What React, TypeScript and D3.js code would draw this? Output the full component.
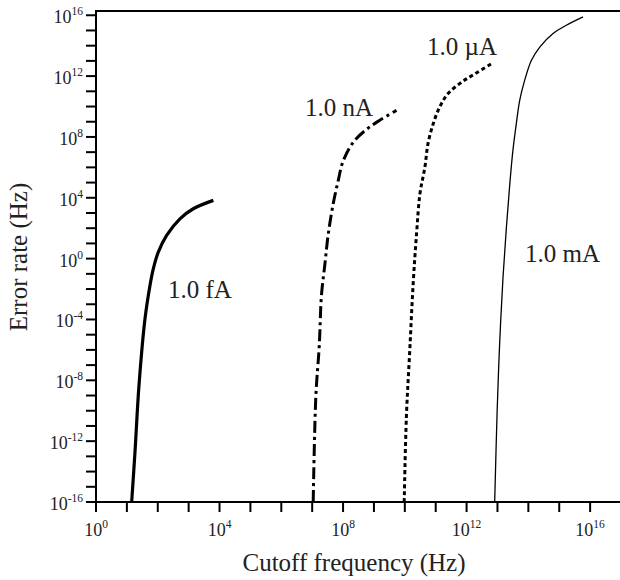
import React from "react";
import * as d3 from "d3";

// log10 of cutoff frequency (Hz) and log10 of error rate (Hz)
const fA_logFreq = [1.155, 1.262, 1.392, 1.586, 1.748, 1.855, 2.017, 2.287, 2.718, 3.15, 3.8];
const fA_logRate = [-16, -12.73, -8.34, -3.96, -1.76, -0.67, 0.43, 1.53, 2.62, 3.28, 3.83];

const nA_logFreq = [7.033, 7.12, 7.23, 7.3, 7.41, 7.52, 7.68, 7.84, 8.0, 8.33, 8.76, 9.19, 9.73];
const nA_logRate = [-16, -9.0, -5.71, -2.42, -0.4, 1.6, 3.6, 5.1, 6.4, 7.65, 8.5, 9.1, 9.75];

const uA_logFreq = [9.98, 10.05, 10.16, 10.27, 10.38, 10.49, 10.65, 10.75, 10.92, 11.13, 11.4, 11.84, 12.27, 12.81];
const uA_logRate = [-16, -10.43, -6.04, -1.65, 1.64, 4.27, 6.02, 7.56, 8.87, 9.97, 10.85, 11.6, 12.15, 12.82];

const mA_logFreq = [12.91, 12.99, 13.07, 13.18, 13.29, 13.4, 13.5, 13.61, 13.72, 13.88, 14.1, 14.37, 14.8, 15.23, 15.77];
const mA_logRate = [-16, -9.99, -5.6, -1.21, 2.07, 4.93, 7.12, 8.87, 10.41, 11.72, 13.04, 13.91, 14.8, 15.34, 15.89];

const seriesNames = ["1.0 fA", "1.0 nA", "1.0 \u00B5A", "1.0 mA"];

const xTickExps = [0, 4, 8, 12, 16];
const yTickExps = [-16, -12, -8, -4, 0, 4, 8, 12, 16];

const FONT = "'Liberation Serif', 'Times New Roman', serif";

export default function App() {
  const W = 620, H = 580;
  const left = 96, right = 621, top = 11, bottom = 502;
  const x = d3.scaleLog().domain([1, 1e17]).range([left, right]);
  const y = d3.scaleLog().domain([1e-16, Math.pow(10, 16.28)]).range([bottom, top]);

  const mk = (lf: number[], lr: number[]) => lf.map((f, i) => [Math.pow(10, f), Math.pow(10, lr[i])] as [number, number]);
  const line = d3
    .line<[number, number]>()
    .x((d) => x(d[0]))
    .y((d) => y(d[1]))
    .curve(d3.curveCatmullRom.alpha(0.5));

  const series = [
    { data: mk(fA_logFreq, fA_logRate), width: 3.2, dash: undefined as string | undefined },
    { data: mk(nA_logFreq, nA_logRate), width: 3, dash: "12,4,3,4" },
    { data: mk(uA_logFreq, uA_logRate), width: 3, dash: "4,3" },
    { data: mk(mA_logFreq, mA_logRate), width: 1.3, dash: undefined },
  ];

  const labelPos: [number, number][] = [
    [168, 298],
    [305, 116],
    [427, 55],
    [525, 262],
  ];

  const xDecades = d3.range(0, 18);
  const yDecades = d3.range(-16, 17);

  return (
    <svg width={W} height={H} style={{ display: "block", position: "absolute", left: 0, top: 0 }} fontFamily={FONT}>
      <rect x={0} y={0} width={W} height={H} fill="#fff" />
      {series.map((s, i) => (
        <path
          key={i}
          d={line(s.data) || ""}
          fill="none"
          stroke="#000"
          strokeWidth={s.width}
          strokeDasharray={s.dash}
          strokeLinejoin="round"
        />
      ))}
      <rect x={left} y={top} width={right - left} height={bottom - top} fill="none" stroke="#000" strokeWidth={2} />
      {xDecades.map((e) => (
        <line key={"xt" + e} x1={x(Math.pow(10, e))} x2={x(Math.pow(10, e))} y1={bottom} y2={bottom + 10} stroke="#000" strokeWidth={2} />
      ))}
      {yDecades.map((e) => (
        <line key={"yt" + e} x1={left - 10} x2={left} y1={y(Math.pow(10, e))} y2={y(Math.pow(10, e))} stroke="#000" strokeWidth={2} />
      ))}
      {xTickExps.map((e) => (
        <text key={"xl" + e} x={x(Math.pow(10, e))} y={536} textAnchor="middle" fontSize={18} fill="#222">
          <tspan>10</tspan>
          <tspan fontSize={11.5} dy={-8}>{String(e)}</tspan>
        </text>
      ))}
      {yTickExps.map((e) => (
        <text key={"yl" + e} x={83} y={y(Math.pow(10, e)) + 8} textAnchor="end" fontSize={18} fill="#222">
          <tspan>10</tspan>
          <tspan fontSize={11.5} dy={-8}>{String(e)}</tspan>
        </text>
      ))}
      <text x={354} y={571} textAnchor="middle" fontSize={25} fill="#222">
        Cutoff frequency (Hz)
      </text>
      <text transform={`translate(27,257) rotate(-90)`} textAnchor="middle" fontSize={25} fill="#222">
        Error rate (Hz)
      </text>
      {seriesNames.map((n, i) => (
        <text key={"sn" + i} x={labelPos[i][0]} y={labelPos[i][1]} fontSize={25} fill="#222">
          {n}
        </text>
      ))}
    </svg>
  );
}
